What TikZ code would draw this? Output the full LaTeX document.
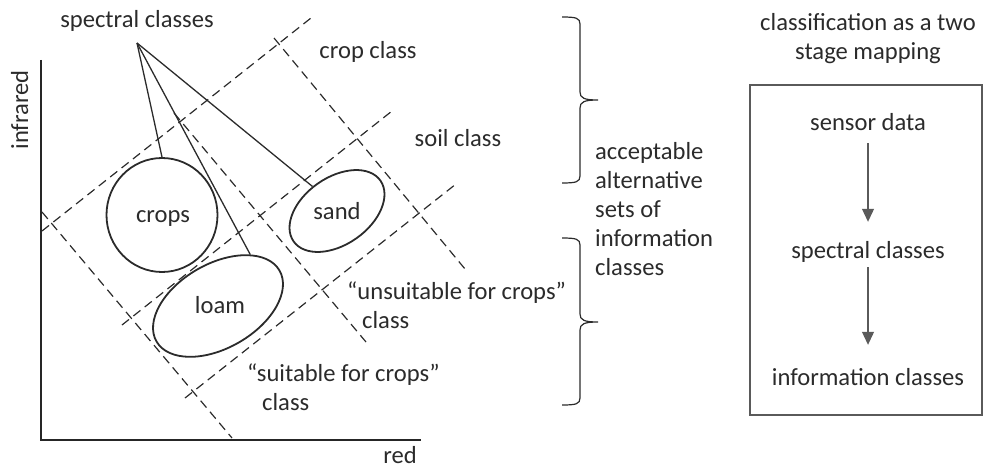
\documentclass[tikz,border=0pt]{standalone}
\usepackage{fontspec}
\setmainfont{Carlito}
\usetikzlibrary{arrows.meta,shapes.geometric}
\definecolor{ink}{HTML}{2B2B2B}
\definecolor{frame}{HTML}{5A5A5A}
\begin{document}
\begin{tikzpicture}[x=1pt,y=-1pt,
  every node/.style={font=\fontsize{24.6}{29}\selectfont, text=ink, inner sep=0pt},
  lbl/.style={anchor=base},
  stagelbl/.style={anchor=base, text height=17pt, text depth=5pt},
  axis/.style={line width=2.6pt, draw=black!85},
  region/.style={dash pattern=on 9pt off 5.5pt, line width=1.2pt, draw=ink},
  blob/.style={draw=ink, line width=1.8pt, ellipse, inner sep=0pt},
  pointer/.style={line width=1.3pt, draw=ink},
  flow/.style={line width=1.1pt, draw=frame, -{Triangle[length=13pt,width=12pt]}},
  bracket/.style={line width=1.2pt, draw=ink},
]
\useasboundingbox (0,0) rectangle (984,468);

% feature space axes
\coordinate (origin) at (41,440);
\coordinate (ytop) at (41,60);
\coordinate (xend) at (421,440);
\draw[axis] (ytop) -- (origin) -- (xend);
\node[anchor=base, rotate=90] (ylab) at (28,110) {infrared};
\node[lbl] (xlab) at (400,463) {red};

% dashed decision boundaries
\draw[region] (42,231) -- (311,18);
\draw[region] (42,212) -- (232,438);
\draw[region] (274,38) -- (465,269);
\draw[region] (122,325) -- (392,111);
\draw[region] (174,113) -- (366,342);
\draw[region] (185,398) -- (456,184);

% spectral class clusters
\node[blob, minimum width=111pt, minimum height=114pt] (crops) at (162,215) {};
\node[blob, rotate=35, minimum width=106pt, minimum height=67pt] (sand) at (337,211) {};
\node[blob, rotate=30, minimum width=142pt, minimum height=84pt] (loam) at (218,306) {};
\node[lbl] (cropst) at (163,222) {crops};
\node[lbl] (sandt) at (337,219) {sand};
\node[lbl] (loamt) at (220,313) {loam};

% spectral classes label with pointers
\node[lbl] (spec) at (137,28) {spectral classes};
\coordinate (apex) at (137,43);
\draw[pointer] (apex) -- (crops.north);
\draw[pointer] (apex) -- (loam.28);
\draw[pointer] (apex) -- (sand.100);

% information class labels (multi-line nodes sit on their last baseline)
\node[lbl] (cropclass) at (368,59) {crop class};
\node[lbl] (soilclass) at (458,146) {soil class};
\node[anchor=base west, align=left] (unsuit) at (347,328) {“unsuitable for crops”\\\hspace*{15pt}class};
\node[anchor=base west, align=left] (suit) at (247,410) {“suitable for crops”\\\hspace*{15pt}class};

% braces
\draw[bracket] (562,17) .. controls (576,17) and (580,18) .. (580,24) -- (580,92)
  .. controls (580,98) and (584,100) .. (598,100)
  .. controls (584,100) and (580,102) .. (580,108) -- (580,176)
  .. controls (580,182) and (576,183) .. (562,183);
\draw[bracket] (562,238) .. controls (576,238) and (580,239) .. (580,245) -- (580,314)
  .. controls (580,320) and (584,322) .. (598,322)
  .. controls (584,322) and (580,324) .. (580,330) -- (580,398)
  .. controls (580,404) and (576,405) .. (562,405);
\node[anchor=base west, align=left] (accept) at (595,275)
  {acceptable\\alternative\\sets of\\information\\classes};

% two stage mapping
\node[anchor=base, align=center] (title) at (868,60) {classification as a two\\stage mapping};
\node[draw=frame, line width=1.2pt, minimum width=232pt, minimum height=330pt] (box) at (866,250) {};
\node[stagelbl] (sensor) at (868,131) {sensor data};
\node[stagelbl] (specc) at (868,258) {spectral classes};
\node[stagelbl] (info) at (868,385) {information classes};
\draw[flow, shorten <=7pt, shorten >=19pt] (sensor.south) -- (specc.north);
\draw[flow, shorten <=4pt, shorten >=23pt] (specc.south) -- (info.north);
\end{tikzpicture}
\end{document}
